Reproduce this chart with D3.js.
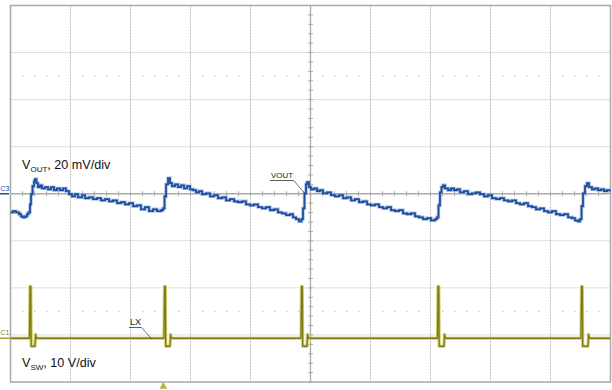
<!DOCTYPE html>
<html><head><meta charset="utf-8">
<script src="https://cdn.jsdelivr.net/npm/d3@7"></script>
<style>html,body{margin:0;padding:0;background:#fff;}svg{display:block;}</style>
</head><body>
<svg id="c" width="612" height="390"></svg>
<script>
// ---- data (time in divisions, VOUT in mV AC, VSW in V) ----
const voutTrace = [[0,-7.9],[0.042,-7.4],[0.092,-7.9],[0.142,-8.7],[0.175,-9.6],[0.208,-10.0],[0.242,-9.6],[0.275,-8.7],[0.300,-7.9],[0.325,-4.5],[0.342,-0.2],[0.367,3.2],[0.392,5.3],[0.408,6.2],[0.433,4.5],[0.458,2.8],[0.492,3.6],[0.525,2.3],[0.575,2.8],[0.625,1.9],[0.675,2.8],[0.725,1.5],[0.775,2.3],[0.825,1.5],[0.875,2.3],[0.925,1.1],[0.975,-0.2],[1.025,-1.1],[1.075,-0.2],[1.125,-1.5],[1.192,-0.6],[1.242,-1.9],[1.308,-1.5],[1.375,-2.3],[1.442,-1.9],[1.508,-2.8],[1.575,-2.3],[1.642,-3.2],[1.708,-2.8],[1.775,-4.0],[1.842,-3.6],[1.908,-4.5],[1.975,-4.0],[2.042,-5.3],[2.108,-4.9],[2.175,-6.6],[2.242,-5.7],[2.308,-7.4],[2.375,-6.6],[2.442,-7.4],[2.508,-7.0],[2.542,-6.2],[2.567,-1.1],[2.592,4.0],[2.625,6.6],[2.658,4.5],[2.692,3.2],[2.742,4.0],[2.792,2.8],[2.842,3.6],[2.892,2.3],[2.942,3.2],[2.992,1.9],[3.042,1.5],[3.092,0.6],[3.142,1.1],[3.192,-0.2],[3.258,0.2],[3.325,-1.1],[3.392,-0.6],[3.458,-1.9],[3.525,-1.5],[3.592,-2.8],[3.658,-2.3],[3.725,-3.2],[3.792,-3.6],[3.858,-3.2],[3.925,-4.5],[3.992,-4.9],[4.058,-4.5],[4.125,-5.7],[4.192,-6.2],[4.258,-5.7],[4.325,-7.0],[4.392,-6.6],[4.458,-7.9],[4.525,-8.3],[4.592,-9.1],[4.658,-8.7],[4.708,-10.0],[4.758,-10.8],[4.808,-11.7],[4.850,-10.8],[4.875,-6.2],[4.900,0.2],[4.925,4.0],[4.942,4.9],[4.975,2.8],[5.008,1.9],[5.058,2.3],[5.108,1.1],[5.158,1.5],[5.208,0.2],[5.275,0.6],[5.342,-0.6],[5.408,-1.1],[5.475,-0.6],[5.542,-1.9],[5.608,-1.5],[5.675,-2.8],[5.742,-2.3],[5.808,-3.6],[5.875,-3.2],[5.942,-4.5],[6.008,-4.9],[6.075,-4.5],[6.142,-5.7],[6.208,-6.2],[6.275,-5.7],[6.342,-7.0],[6.408,-7.4],[6.475,-7.0],[6.542,-8.3],[6.608,-8.7],[6.675,-8.3],[6.742,-9.6],[6.808,-10.0],[6.875,-10.8],[6.942,-10.4],[7.008,-11.3],[7.075,-10.8],[7.108,-10.0],[7.133,-4.9],[7.158,0.6],[7.183,2.8],[7.208,3.6],[7.242,2.3],[7.292,1.5],[7.342,2.3],[7.392,1.5],[7.442,1.9],[7.492,0.6],[7.558,1.1],[7.625,-0.2],[7.692,0.2],[7.758,0.6],[7.825,-0.2],[7.892,-1.1],[7.958,-0.6],[8.025,-1.9],[8.092,-2.3],[8.158,-1.9],[8.225,-2.8],[8.292,-3.2],[8.358,-2.8],[8.425,-4.0],[8.492,-4.5],[8.558,-4.0],[8.625,-5.3],[8.692,-5.7],[8.758,-6.6],[8.825,-6.2],[8.892,-7.4],[8.958,-7.9],[9.025,-7.4],[9.092,-8.7],[9.158,-9.1],[9.225,-8.7],[9.292,-10.0],[9.358,-10.4],[9.408,-11.3],[9.458,-11.7],[9.492,-10.8],[9.517,-5.3],[9.542,0.2],[9.575,3.2],[9.608,4.5],[9.642,2.8],[9.692,1.9],[9.742,2.3],[9.792,1.5],[9.842,1.9],[9.892,1.1],[9.942,1.5],[10.0,0.6]];

const vswTrace = [[0,0],[0.317,0],[0.325,11.0],[0.338,11.0],[0.345,-1.7],[0.408,-1.7],[0.417,0.8],[0.433,0],
[2.558,0],[2.567,11.0],[2.580,11.0],[2.587,-1.7],[2.658,-1.7],[2.667,0.8],[2.683,0],
[4.842,0],[4.850,11.0],[4.863,11.0],[4.870,-1.7],[4.942,-1.7],[4.950,0.8],[4.967,0],
[7.117,0],[7.125,11.0],[7.138,11.0],[7.145,-1.7],[7.225,-1.7],[7.233,0.8],[7.250,0],
[9.508,0],[9.517,11.0],[9.530,11.0],[9.537,-1.7],[9.625,-1.7],[9.633,0.8],[9.650,0],[10,0]];

const channelLabels = ["C3", "C1"];
const voutScaleMv = 20;     // mV/div
const vswScaleV = 10;       // V/div
const vswOffsetDiv = -3.07; // C1 ground position in divisions
const triggerTime = 2.547;  // divisions
const hDivs = 10, vDivs = 8;

// ---- layout ----
const svg = d3.select("#c");
const L = 10.5, R = 610.5, T = 5.5, B = 382;
const x = d3.scaleLinear().domain([0, hDivs]).range([L, R]);
const yDiv = d3.scaleLinear().domain([-vDivs/2, vDivs/2]).range([B, T]);
const yOut = d3.scaleLinear().domain([-vDivs/2*voutScaleMv, vDivs/2*voutScaleMv]).range([B, T]);
const ySw = d3.scaleLinear()
  .domain([(-vDivs/2 - vswOffsetDiv)*vswScaleV, (vDivs/2 - vswOffsetDiv)*vswScaleV])
  .range([B, T]);

const gridCol = "#bdbdbd";
const g = svg.append("g");

// grid lines
d3.range(1, hDivs).filter(d => d !== hDivs/2).forEach(d => {
  g.append("line").attr("x1", x(d)).attr("x2", x(d)).attr("y1", T).attr("y2", B)
   .attr("stroke", gridCol).attr("stroke-width", 1).attr("stroke-dasharray", "2,1");
});
d3.range(-vDivs/2 + 1, vDivs/2).filter(d => d !== 0).forEach(d => {
  g.append("line").attr("x1", L).attr("x2", R).attr("y1", yDiv(d)).attr("y2", yDiv(d))
   .attr("stroke", gridCol).attr("stroke-width", 1).attr("stroke-dasharray", "1,1");
});
// sub-division dot rows
[2.5, -2.5].forEach(r => {
  d3.range(0, hDivs, 0.2).filter(t => Math.abs(t - Math.round(t)) > 0.01).forEach(t => {
    g.append("rect").attr("x", x(t) - 0.5).attr("y", yDiv(r) - 0.5).attr("width", 1.2).attr("height", 1.2)
     .attr("fill", "#b8b8b8");
  });
});
// centre axes
g.append("line").attr("x1", x(hDivs/2)).attr("x2", x(hDivs/2)).attr("y1", T).attr("y2", B)
 .attr("stroke", "#aaaaaa").attr("stroke-width", 1.3);
g.append("line").attr("x1", L).attr("x2", R).attr("y1", yDiv(0)).attr("y2", yDiv(0))
 .attr("stroke", "#aaaaaa").attr("stroke-width", 1.3);
d3.range(-vDivs/2, vDivs/2 + 0.001, 0.2).forEach(v => {
  g.append("line").attr("x1", x(hDivs/2) - 2.5).attr("x2", x(hDivs/2) + 2.5).attr("y1", yDiv(v)).attr("y2", yDiv(v))
   .attr("stroke", "#aaaaaa").attr("stroke-width", 1);
});
d3.range(0, hDivs + 0.001, 0.2).forEach(t => {
  g.append("line").attr("x1", x(t)).attr("x2", x(t)).attr("y1", yDiv(0) - 2.5).attr("y2", yDiv(0) + 2.5)
   .attr("stroke", "#aaaaaa").attr("stroke-width", 1);
});
// border
g.append("rect").attr("x", L).attr("y", T).attr("width", R - L).attr("height", B - T)
 .attr("fill", "none").attr("stroke", "#a8a8a8").attr("stroke-width", 1.5);

// clip
svg.append("clipPath").attr("id", "clip").append("rect")
  .attr("x", L).attr("y", T).attr("width", R - L).attr("height", B - T);
const traces = svg.append("g").attr("clip-path", "url(#clip)");

// VSW trace
const lineSw = d3.line().x(d => x(d[0])).y(d => ySw(d[1]));
traces.append("path").datum(vswTrace).attr("d", lineSw).attr("fill", "none")
  .attr("stroke", "#cfcc6a").attr("stroke-width", 3.2).attr("stroke-linejoin", "round");
traces.append("path").datum(vswTrace).attr("d", lineSw).attr("fill", "none")
  .attr("stroke", "#7f7c18").attr("stroke-width", 1.3).attr("stroke-linejoin", "round");

// VOUT trace
const lineOut = d3.line().x(d => x(d[0])).y(d => yOut(d[1])).curve(d3.curveStepAfter);
traces.append("path").datum(voutTrace).attr("d", lineOut).attr("fill", "none")
  .attr("stroke", "#86a2d6").attr("stroke-width", 3.4).attr("opacity", 0.7);
traces.append("path").datum(voutTrace).attr("d", lineOut).attr("fill", "none")
  .attr("stroke", "#1d4e9e").attr("stroke-width", 1.8);

// channel markers
const font = "'Liberation Sans', Arial, Helvetica, sans-serif";
svg.append("text").attr("x", 0.5).attr("y", yOut(0) - 2.5).text(channelLabels[0])
  .attr("font-family", font).attr("font-size", 7).attr("fill", "#1d4e9e");
svg.append("line").attr("x1", 0).attr("x2", 9).attr("y1", yOut(0)).attr("y2", yOut(0))
  .attr("stroke", "#1d4e9e").attr("stroke-width", 1.5);
svg.append("text").attr("x", 0.5).attr("y", ySw(0) - 3).text(channelLabels[1])
  .attr("font-family", font).attr("font-size", 7).attr("fill", "#8c8920");
svg.append("line").attr("x1", 0).attr("x2", 10).attr("y1", ySw(0)).attr("y2", ySw(0))
  .attr("stroke", "#a6a330").attr("stroke-width", 1.5);

// trigger marker
svg.append("path")
  .attr("d", d3.symbol().type(d3.symbolTriangle).size(26)())
  .attr("transform", `translate(${x(triggerTime)},${B + 4.5})`)
  .attr("fill", "#b7b43a");

// channel text
function chanText(xp, yp, main, sub, rest) {
  const t = svg.append("text").attr("x", xp).attr("y", yp)
    .attr("font-family", font).attr("font-size", 12.6).attr("fill", "#111");
  t.append("tspan").text(main);
  t.append("tspan").text(sub).attr("font-size", 8).attr("dy", 3);
  t.append("tspan").text(rest).attr("dy", -3);
}
chanText(22, 169, "V", "OUT", ", " + voutScaleMv + " mV/div");
chanText(22, 367, "V", "SW", ", " + vswScaleV + " V/div");

// probe labels
function probeLabel(xp, yp, label, fs, tx, ty) {
  const t = svg.append("text").attr("x", xp).attr("y", yp).text(label)
    .attr("font-family", font).attr("font-size", fs).attr("fill", "#222");
  const w = t.node().getComputedTextLength();
  svg.append("line").attr("x1", xp - 1).attr("x2", xp + w + 0.5).attr("y1", yp + 2.5).attr("y2", yp + 2.5)
    .attr("stroke", "#333").attr("stroke-width", 0.8);
  svg.append("line").attr("x1", xp + w + 0.5).attr("y1", yp + 2.5).attr("x2", tx).attr("y2", ty)
    .attr("stroke", "#333").attr("stroke-width", 0.7);
}
probeLabel(271, 178, "VOUT", 8, x(4.92), yOut(-0.3));
probeLabel(130, 325, "LX", 9, x(2.35), ySw(-0.1));
</script>
</body></html>
